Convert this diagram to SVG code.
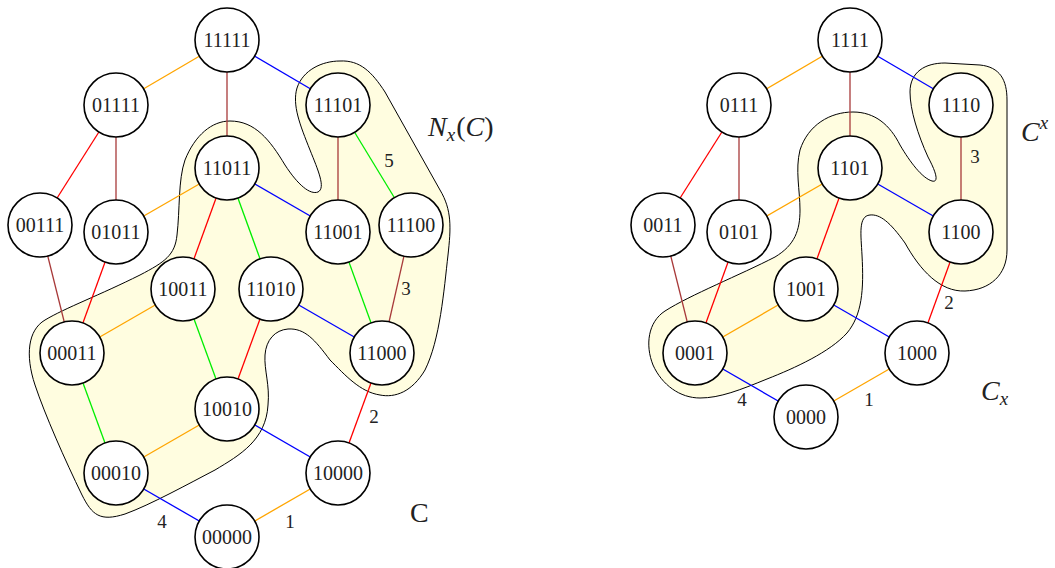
<svg xmlns="http://www.w3.org/2000/svg" width="1055" height="568" viewBox="0 0 1055 568">
<style>
.blob{fill:#FFFDE0;stroke:#000;stroke-width:1}
.e{stroke-width:1.3;fill:none}
.o{stroke:#FFA500}.b{stroke:#0000FF}.br{stroke:#A83A3A}.r{stroke:#FF0000}.g{stroke:#00EE00}
.node circle{fill:#fff;stroke:#000;stroke-width:1.6}
.node text{font-family:"Liberation Serif","DejaVu Serif",serif;font-size:20px;text-anchor:middle;fill:#222}
.lbl{font-family:"Liberation Serif","DejaVu Serif",serif;font-size:19px;text-anchor:middle;fill:#222}
.big{font-family:"Liberation Serif","DejaVu Serif",serif;font-size:28px;fill:#222}
</style>
<rect width="1055" height="568" fill="#fff"/>
<g id="blobs">
<path id="blob-left" class="blob" d="M 340,61 C 360,60 372,72 385,92 L 440,190 C 452,210 451,228 448,255 C 444,290 440,340 425,370 C 412,392 395,398 380,395 C 360,392 345,375 330,360 C 315,340 305,328 288,329 C 275,330 266,340 265,355 C 264,370 270,385 268,405 C 266,440 240,455 215,470 C 190,483 150,505 125,514 C 100,522 92,515 82,495 C 65,460 45,415 35,385 C 25,355 28,330 45,320 C 65,308 100,295 140,275 C 165,262 175,255 177,235 C 180,210 178,180 185,160 C 195,135 212,121 230,121 C 255,121 270,140 285,165 C 298,185 310,195 318,192 C 326,188 318,170 310,150 C 300,125 292,105 297,88 C 303,70 322,61 340,61 Z"/>
<path id="blob-right" class="blob" d="M 853,112 C 875,112 890,125 900,145 C 910,162 922,178 932,181 C 940,183 935,170 928,157 C 918,135 910,110 910,92 C 910,72 925,63 945,63 L 980,65 C 1000,67 1007,80 1007,100 L 1007,250 C 1007,275 990,290 965,291 C 940,292 920,270 905,243 C 890,222 880,214 870,215 C 858,216 861,235 862,255 C 864,290 862,315 847,333 C 830,352 795,368 767,379 C 740,390 720,398 700,398 C 680,398 662,385 653,365 C 645,345 648,322 665,311 C 690,295 740,275 775,257 C 795,245 800,230 800,210 C 800,190 795,170 800,150 C 808,125 830,112 853,112 Z"/>
</g>
<g id="connectors">
<line class="e o" x1="227" y1="40" x2="116" y2="105"/>
<line class="e b" x1="227" y1="40" x2="338" y2="105"/>
<line class="e br" x1="227" y1="40" x2="227" y2="168"/>
<line class="e r" x1="116" y1="105" x2="40" y2="225"/>
<line class="e br" x1="116" y1="105" x2="116" y2="232"/>
<line class="e br" x1="338" y1="105" x2="338" y2="232"/>
<line class="e g" x1="338" y1="105" x2="411" y2="225"/>
<line class="e o" x1="227" y1="168" x2="116" y2="232"/>
<line class="e b" x1="227" y1="168" x2="338" y2="232"/>
<line class="e r" x1="227" y1="168" x2="183" y2="289"/>
<line class="e g" x1="227" y1="168" x2="271" y2="289"/>
<line class="e br" x1="40" y1="225" x2="72" y2="353"/>
<line class="e r" x1="116" y1="232" x2="72" y2="353"/>
<line class="e g" x1="338" y1="232" x2="382" y2="353"/>
<line class="e br" x1="411" y1="225" x2="382" y2="353"/>
<line class="e o" x1="183" y1="289" x2="72" y2="353"/>
<line class="e g" x1="183" y1="289" x2="227" y2="409"/>
<line class="e b" x1="271" y1="289" x2="382" y2="353"/>
<line class="e r" x1="271" y1="289" x2="227" y2="409"/>
<line class="e g" x1="72" y1="353" x2="116" y2="473"/>
<line class="e o" x1="227" y1="409" x2="116" y2="473"/>
<line class="e b" x1="227" y1="409" x2="338" y2="473"/>
<line class="e r" x1="382" y1="353" x2="338" y2="473"/>
<line class="e b" x1="116" y1="473" x2="227" y2="537"/>
<line class="e o" x1="338" y1="473" x2="227" y2="537"/>

<line class="e o" x1="850" y1="40" x2="739" y2="105"/>
<line class="e b" x1="850" y1="40" x2="961" y2="105"/>
<line class="e br" x1="850" y1="40" x2="850" y2="168"/>
<line class="e r" x1="739" y1="105" x2="663" y2="225"/>
<line class="e br" x1="739" y1="105" x2="739" y2="232"/>
<line class="e br" x1="961" y1="105" x2="961" y2="232"/>
<line class="e o" x1="850" y1="168" x2="739" y2="232"/>
<line class="e b" x1="850" y1="168" x2="961" y2="232"/>
<line class="e r" x1="850" y1="168" x2="806" y2="289"/>
<line class="e br" x1="663" y1="225" x2="695" y2="353"/>
<line class="e r" x1="739" y1="232" x2="695" y2="353"/>
<line class="e o" x1="806" y1="289" x2="695" y2="353"/>
<line class="e b" x1="806" y1="289" x2="917" y2="353"/>
<line class="e r" x1="961" y1="232" x2="917" y2="353"/>
<line class="e b" x1="695" y1="353" x2="806" y2="417"/>
<line class="e o" x1="917" y1="353" x2="806" y2="417"/>
</g>
<g id="edge-labels">
<text class="lbl" x="389" y="167">5</text>
<text class="lbl" x="406" y="295">3</text>
<text class="lbl" x="374" y="423">2</text>
<text class="lbl" x="162" y="528">4</text>
<text class="lbl" x="290" y="528">1</text>
<text class="lbl" x="975" y="163">3</text>
<text class="lbl" x="949" y="309">2</text>
<text class="lbl" x="742" y="406">4</text>
<text class="lbl" x="869" y="406">1</text>
</g>
<g id="nodes">
<g class="node" id="n11111"><circle cx="227" cy="40" r="32"/><text x="227" y="47">11111</text></g>
<g class="node" id="n01111"><circle cx="116" cy="105" r="32"/><text x="116" y="112">01111</text></g>
<g class="node" id="n11101"><circle cx="338" cy="105" r="32"/><text x="338" y="112">11101</text></g>
<g class="node" id="n11011"><circle cx="227" cy="168" r="32"/><text x="227" y="175">11011</text></g>
<g class="node" id="n00111"><circle cx="40" cy="225" r="32"/><text x="40" y="232">00111</text></g>
<g class="node" id="n01011"><circle cx="116" cy="232" r="32"/><text x="116" y="239">01011</text></g>
<g class="node" id="n11001"><circle cx="338" cy="232" r="32"/><text x="338" y="239">11001</text></g>
<g class="node" id="n11100"><circle cx="411" cy="225" r="32"/><text x="411" y="232">11100</text></g>
<g class="node" id="n10011"><circle cx="183" cy="289" r="32"/><text x="183" y="296">10011</text></g>
<g class="node" id="n11010"><circle cx="271" cy="289" r="32"/><text x="271" y="296">11010</text></g>
<g class="node" id="n00011"><circle cx="72" cy="353" r="32"/><text x="72" y="360">00011</text></g>
<g class="node" id="n11000"><circle cx="382" cy="353" r="32"/><text x="382" y="360">11000</text></g>
<g class="node" id="n10010"><circle cx="227" cy="409" r="32"/><text x="227" y="416">10010</text></g>
<g class="node" id="n00010"><circle cx="116" cy="473" r="32"/><text x="116" y="480">00010</text></g>
<g class="node" id="n10000"><circle cx="338" cy="473" r="32"/><text x="338" y="480">10000</text></g>
<g class="node" id="n00000"><circle cx="227" cy="537" r="32"/><text x="227" y="544">00000</text></g>

<g class="node" id="r1111"><circle cx="850" cy="40" r="32"/><text x="850" y="47">1111</text></g>
<g class="node" id="r0111"><circle cx="739" cy="105" r="32"/><text x="739" y="112">0111</text></g>
<g class="node" id="r1110"><circle cx="961" cy="105" r="32"/><text x="961" y="112">1110</text></g>
<g class="node" id="r1101"><circle cx="850" cy="168" r="32"/><text x="850" y="175">1101</text></g>
<g class="node" id="r0011"><circle cx="663" cy="225" r="32"/><text x="663" y="232">0011</text></g>
<g class="node" id="r0101"><circle cx="739" cy="232" r="32"/><text x="739" y="239">0101</text></g>
<g class="node" id="r1100"><circle cx="961" cy="232" r="32"/><text x="961" y="239">1100</text></g>
<g class="node" id="r1001"><circle cx="806" cy="289" r="32"/><text x="806" y="296">1001</text></g>
<g class="node" id="r0001"><circle cx="695" cy="353" r="32"/><text x="695" y="360">0001</text></g>
<g class="node" id="r1000"><circle cx="917" cy="353" r="32"/><text x="917" y="360">1000</text></g>
<g class="node" id="r0000"><circle cx="806" cy="417" r="32"/><text x="806" y="424">0000</text></g>
</g>
<g id="set-labels">
<text class="big" x="428" y="136"><tspan font-style="italic">N</tspan><tspan font-style="italic" font-size="19" dy="5">x</tspan><tspan dy="-5" dx="1">(</tspan><tspan font-style="italic">C</tspan><tspan>)</tspan></text>
<text class="big" x="410" y="522">C</text>
<text class="big" x="1021" y="141"><tspan font-style="italic">C</tspan><tspan font-style="italic" font-size="19" dy="-12">x</tspan></text>
<text class="big" x="981" y="400"><tspan font-style="italic">C</tspan><tspan font-style="italic" font-size="19" dy="5">x</tspan></text>
</g>
</svg>
